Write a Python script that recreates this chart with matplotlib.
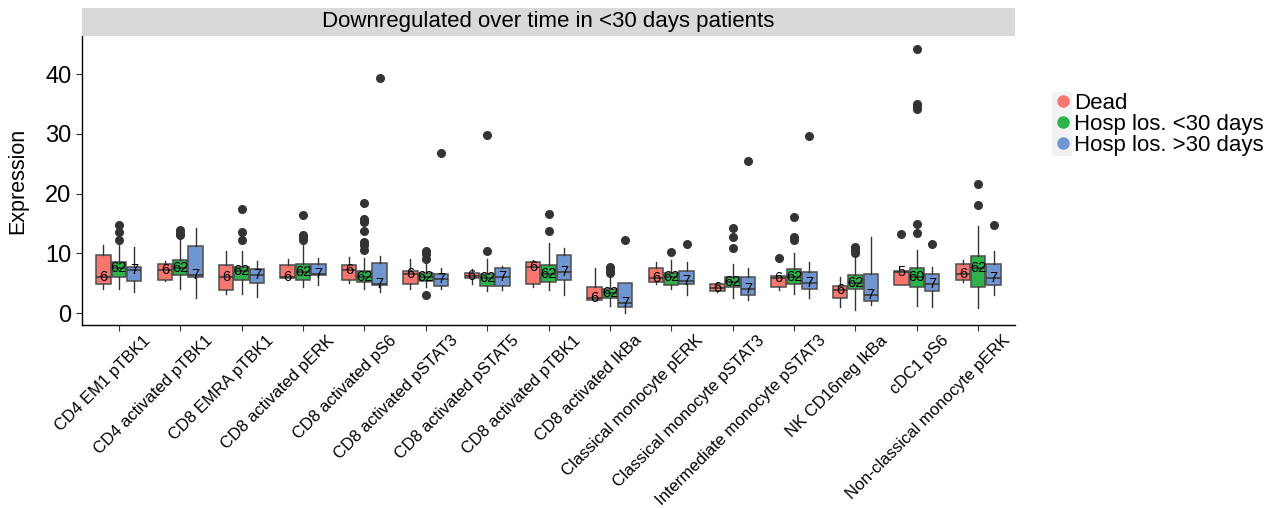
import matplotlib
matplotlib.use('Agg')
import matplotlib.pyplot as plt
from matplotlib.lines import Line2D
from matplotlib.patches import Rectangle
from matplotlib.transforms import ScaledTranslation
import numpy as np

plt.rcParams['font.family'] = ['Liberation Sans', 'DejaVu Sans']

categories = ['CD4 EM1 pTBK1', 'CD4 activated pTBK1', 'CD8 EMRA pTBK1',
              'CD8 activated pERK', 'CD8 activated pS6', 'CD8 activated pSTAT3',
              'CD8 activated pSTAT5', 'CD8 activated pTBK1', 'CD8 activated IkBa',
              'Classical monocyte pERK', 'Classical monocyte pSTAT3',
              'Intermediate monocyte pSTAT3', 'NK CD16neg IkBa', 'cDC1 pS6',
              'Non-classical monocyte pERK']

groups = ['Dead', 'Hosp los. <30 days', 'Hosp los. >30 days']

# (whisker low, q1, median, q3, whisker high) per category
dead_stats = [(4.0, 4.9, 6.0, 9.8, 11.4), (5.4, 5.6, 7.2, 8.3, 8.7),
              (3.2, 3.8, 6.0, 8.0, 10.4), (5.9, 5.9, 6.1, 8.0, 9.0),
              (5.0, 5.5, 7.2, 8.0, 9.4), (4.1, 4.8, 6.5, 7.0, 9.0),
              (4.85, 5.8, 6.25, 6.7, 7.3), (4.4, 4.8, 7.65, 8.6, 8.9),
              (2.2, 2.2, 2.6, 4.4, 7.5), (4.85, 5.25, 5.8, 7.5, 8.5),
              (3.6, 3.7, 4.25, 4.9, 5.0), (3.85, 4.3, 5.8, 6.2, 6.2),
              (1.05, 2.45, 3.85, 4.5, 6.0), (4.7, 4.7, 6.9, 7.1, 7.1),
              (5.25, 5.6, 6.5, 8.15, 8.9)]
short_stats = [(4.1, 6.1, 7.5, 8.5, 11.5), (4.1, 6.4, 7.6, 8.9, 12.5),
               (3.2, 5.6, 7.1, 7.8, 10.4), (4.3, 5.6, 6.9, 8.15, 11.9),
               (3.95, 5.25, 6.1, 7.1, 9.15), (4.3, 5.4, 6.1, 6.75, 8.6),
               (3.7, 4.6, 5.9, 6.6, 9.0), (3.85, 5.25, 6.5, 8.1, 11.7),
               (1.2, 2.45, 3.3, 4.1, 6.0), (3.95, 4.7, 6.0, 6.75, 8.9),
               (2.45, 4.4, 5.25, 6.0, 8.3), (3.2, 4.85, 6.1, 7.3, 10.1),
               (0.5, 3.95, 5.1, 6.4, 9.4), (1.2, 4.4, 6.0, 7.6, 10.5),
               (0.8, 4.4, 7.5, 9.6, 14.6)]
long_stats = [(3.5, 5.3, 7.2, 7.7, 11.0), (2.45, 6.0, 6.4, 11.3, 14.3),
              (2.7, 5.0, 6.3, 7.3, 8.7), (4.7, 6.4, 6.5, 8.2, 9.3),
              (3.6, 4.7, 4.85, 8.4, 9.6), (4.0, 4.6, 5.75, 6.6, 7.6),
              (3.85, 4.5, 6.1, 7.5, 7.9), (3.0, 5.6, 6.9, 9.7, 10.9),
              (0.05, 1.05, 1.7, 5.1, 5.1), (3.0, 4.8, 5.4, 7.0, 8.5),
              (2.2, 3.0, 4.1, 6.1, 7.5), (2.6, 3.95, 5.0, 6.9, 8.5),
              (1.35, 2.05, 3.1, 6.6, 12.8), (0.95, 3.7, 4.8, 6.6, 7.75),
              (3.1, 4.7, 5.8, 8.15, 10.4)]

dead_out = [[], [], [], [], [], [], [], [], [], [], [], [9.25], [], [13.2], []]
short_out = [[14.7, 13.5, 12.3], [13.9, 13.4, 13.05], [17.4, 13.5, 12.3],
             [16.5, 13.05, 12.7, 12.2], [18.5, 15.7, 15.2, 13.8, 11.9, 11.4, 10.5],
             [10.4, 9.9, 9.0, 3.0], [29.8, 10.4], [16.6, 13.7],
             [7.75, 7.2, 6.65], [10.3], [14.3, 12.7, 10.9],
             [16.1, 12.8, 12.2], [11.1, 10.5, 10.1],
             [44.2, 35.0, 34.6, 34.1, 15.0, 13.4], [21.7, 18.1]]
long_out = [[], [], [], [], [39.4], [26.8], [], [], [12.3], [11.5], [25.4],
            [29.6], [], [11.5], [14.8]]

dead_n = [6] * 13 + [5, 6]
short_n = [62] * 13 + [60, 62]
long_n = [7] * 15

colors = ['#F8766D', '#2DB34A', '#6F96D1']

fig = plt.figure(figsize=(12.71, 5.08), dpi=100)
ax = fig.add_axes([0.0645, 0.3602, 0.7341, 0.5689])

x = np.arange(1, len(categories) + 1)
offs = [-0.25, 0.0, 0.25]
series = [(dead_stats, dead_out, dead_n), (short_stats, short_out, short_n),
          (long_stats, long_out, long_n)]

for k, (st, outl, ns) in enumerate(series):
    bx = []
    for s, o in zip(st, outl):
        bx.append(dict(whislo=s[0], q1=s[1], med=s[2], q3=s[3], whishi=s[4], fliers=o))
    ax.bxp(bx, positions=x + offs[k], widths=0.235, patch_artist=True,
           showcaps=False,
           boxprops=dict(facecolor=colors[k], edgecolor='#4D4D4D', linewidth=1.1),
           medianprops=dict(color='#333333', linewidth=1.1),
           whiskerprops=dict(color='#333333', linewidth=1.0),
           flierprops=dict(marker='o', markerfacecolor='#333333',
                           markeredgecolor='#333333', markersize=5.5))
    for xi, s, n in zip(x + offs[k], st, ns):
        ax.text(xi, s[2], str(n), ha='center', va='center', fontsize=10.5, color='black')

ax.set_xlim(0.4, len(categories) + 0.6)
ax.set_ylim(-2.0, 46.4)
ax.set_yticks([0, 10, 20, 30, 40])
ax.set_xticks(x)
ax.set_xticklabels([''] * len(categories))
# rotated category labels, placed like ggplot's angle=45 / hjust=1
lab_tr = ax.get_xaxis_transform() + ScaledTranslation(0.295, -0.13, fig.dpi_scale_trans)
for xi, c in zip(x, categories):
    ax.text(xi, 0, c, transform=lab_tr, rotation=45, ha='right', va='center',
            rotation_mode='anchor', fontsize=12, clip_on=False)
ax.tick_params(axis='y', labelsize=17, length=4, color='#333333')
ax.tick_params(axis='x', length=4, color='#333333')
ax.set_ylabel('Expression', fontsize=15.5, labelpad=12)
for sp in ['top', 'right']:
    ax.spines[sp].set_visible(False)
for sp in ['left', 'bottom']:
    ax.spines[sp].set_color('black')
    ax.spines[sp].set_linewidth(1.0)

# facet strip
strip = fig.add_axes([0.0645, 0.9291, 0.7341, 0.0552])
strip.set_facecolor('#D9D9D9')
strip.set_xticks([])
strip.set_yticks([])
for sp in strip.spines.values():
    sp.set_visible(False)
strip.text(0.5, 0.5, 'Downregulated over time in <30 days patients',
           ha='center', va='center', fontsize=16, transform=strip.transAxes)

# legend
fig.patches.append(Rectangle((1052 / 1271, 1 - 156 / 508), 20 / 1271, 64 / 508,
                             transform=fig.transFigure, facecolor='#F2F2F2',
                             edgecolor='none', zorder=0))
handles = [Line2D([], [], marker='o', linestyle='none', markerfacecolor=c,
                  markeredgecolor=c, markersize=8) for c in colors]
fig.legend(handles, groups, loc='upper left', bbox_to_anchor=(1052 / 1271, 1 - 93 / 508),
           frameon=False, fontsize=16, handletextpad=0.0, labelspacing=0.0,
           handlelength=1.0, borderaxespad=0, borderpad=0)

fig.savefig('out.png', dpi=100)
